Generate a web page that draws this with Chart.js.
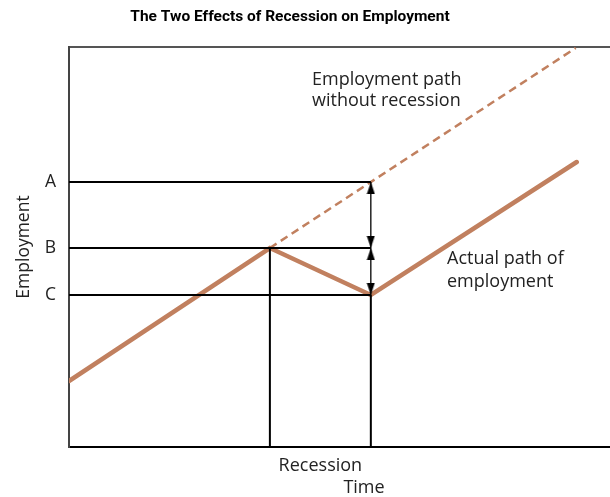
<!DOCTYPE html>
<html>
<head>
<meta charset="utf-8">
<script src="https://cdn.jsdelivr.net/npm/chart.js@4"></script>
<style>
  html, body { margin: 0; padding: 0; background: #fff; overflow: hidden; }
  #wrap { width: 610px; height: 497px; overflow: hidden; }
  #inner { width: 616px; height: 497px; position: relative; }
</style>
</head>
<body>
<div id="wrap"><div id="inner"><canvas id="myChart"></canvas></div></div>
<script>
// actual employment path (time, employment)
var pathX = [0, 201, 302, 508];
var pathY = [66, 199, 152, 285];
// path without recession (dashed)
var trendX = [201, 507];
var trendY = [199, 399];
// employment levels
var levelLabels = ['A', 'B', 'C'];
var levelValues = [265, 199, 152];
// recession period
var recessionStart = 201;
var recessionEnd = 302;

var brown = 'rgb(193, 128, 95)';
var txtFont = '"Open Sans", sans-serif';
var txtColor = '#222';

function pts(xs, ys) {
    return xs.map(function (x, i) { return { x: x, y: ys[i] }; });
}

// arrow head with its tip at the image centre
function arrowHead() {
    var c = document.createElement('canvas');
    c.width = 9; c.height = 26;
    var g = c.getContext('2d');
    g.fillStyle = '#000';
    g.beginPath();
    g.moveTo(4.5, 13);
    g.lineTo(0.5, 25);
    g.lineTo(8.5, 25);
    g.closePath();
    g.fill();
    return c;
}
var head = arrowHead();

var datasets = [];
// level lines A, B, C
levelValues.forEach(function (v) {
    datasets.push({ data: [{ x: 0, y: v }, { x: recessionEnd, y: v }], borderColor: '#000', borderWidth: 2, pointRadius: 0 });
});
// recession verticals
datasets.push({ data: [{ x: recessionStart, y: 0 }, { x: recessionStart, y: levelValues[1] }], borderColor: '#000', borderWidth: 2, pointRadius: 0 });
datasets.push({ data: [{ x: recessionEnd, y: 0 }, { x: recessionEnd, y: levelValues[2] }], borderColor: '#000', borderWidth: 2, pointRadius: 0 });
// double arrows A-B and B-C
datasets.push({ data: [{ x: recessionEnd, y: levelValues[0] }, { x: recessionEnd, y: levelValues[1] }], borderColor: '#000', borderWidth: 1.3, pointStyle: head, pointRadius: 5, rotation: [0, 180] });
datasets.push({ data: [{ x: recessionEnd, y: levelValues[1] }, { x: recessionEnd, y: levelValues[2] }], borderColor: '#000', borderWidth: 1.3, pointStyle: head, pointRadius: 5, rotation: [0, 180] });
// paths
datasets.push({ data: pts(trendX, trendY), borderColor: brown, borderWidth: 2.5, borderDash: [8, 5], pointRadius: 0 });
datasets.push({ data: pts(pathX, pathY), borderColor: brown, borderWidth: 4.5, pointRadius: 0, borderCapStyle: 'round', borderJoinStyle: 'miter' });

var textPlugin = {
    id: 'texts',
    afterDraw: function (chart) {
        var ctx = chart.ctx;
        ctx.save();
        ctx.fillStyle = '#000';
        ctx.font = 'bold 15.5px Roboto, sans-serif';
        ctx.textAlign = 'center';
        ctx.textBaseline = 'middle';
        ctx.fillText('The Two Effects of Recession on Employment', 290, 17);
        ctx.fillStyle = txtColor;
        ctx.font = '400 18px ' + txtFont;
        ctx.textAlign = 'left';
        ctx.fillText('Employment path', 312, 80);
        ctx.fillText('without recession', 312, 101);
        ctx.fillText('Actual path of', 447, 259);
        ctx.fillText('employment', 447, 282);
        ctx.textAlign = 'center';
        ctx.fillText('Time', 364, 488);
        ctx.restore();
    }
};

var ctx = document.getElementById('myChart').getContext('2d');
var myChart = new Chart(ctx, {
    type: 'line',
    data: { datasets: datasets },
    plugins: [textPlugin],
    options: {
        responsive: true,
        maintainAspectRatio: false,
        animation: false,
        layout: { padding: { top: 47, right: 0, bottom: 0, left: 0 } },
        plugins: { legend: { display: false }, tooltip: { enabled: false } },
        scales: {
            x: {
                type: 'linear', min: 0, max: 541,
                grid: { display: false },
                border: { display: true, color: '#000', width: 2 },
                afterBuildTicks: function (s) { s.ticks = [{ value: (recessionStart + recessionEnd) / 2 }]; },
                afterFit: function (s) { s.height = 50; },
                ticks: { padding: 0, color: txtColor, font: { family: txtFont, size: 18 }, callback: function () { return 'Recession'; } }
            },
            x2: {
                type: 'linear', position: 'top', min: 0, max: 541,
                grid: { display: false },
                border: { display: true, color: '#555', width: 2 },
                ticks: { display: false },
                afterFit: function (s) { s.height = 0; }
            },
            y: {
                type: 'linear', min: 0, max: 400,
                grid: { display: false },
                border: { display: true, color: '#444', width: 2 },
                afterBuildTicks: function (s) { s.ticks = levelValues.map(function (v) { return { value: v }; }); },
                afterFit: function (s) { s.width = 69; },
                ticks: { padding: 5, color: txtColor, font: { family: txtFont, size: 17.5 },
                    callback: function (v) { return levelLabels[levelValues.indexOf(v)]; } },
                title: { display: true, text: 'Employment', color: txtColor, font: { family: txtFont, size: 17.5 }, padding: { top: 14, bottom: 0 } }
            }
        }
    }
});
</script>
</body>
</html>
